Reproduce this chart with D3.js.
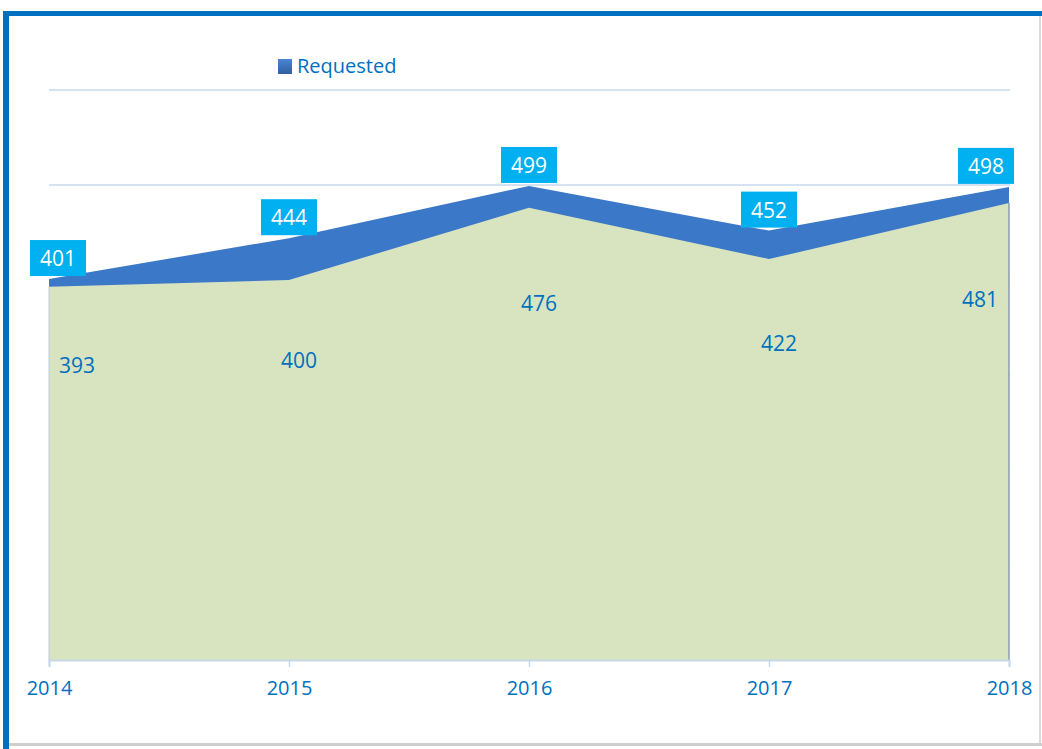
<!DOCTYPE html>
<html>
<head>
<meta charset="utf-8">
<script src="https://cdn.jsdelivr.net/npm/d3@7"></script>
<style>
  body { margin: 0; background: #fff; }
  text { font-family: "Open Sans", sans-serif; }
</style>
</head>
<body>
<div id="chart"></div>
<script>
// values
const years = ['2014', '2015', '2016', '2017', '2018'];
const requested = [401, 444, 499, 452, 498];
const granted = [393, 400, 476, 422, 481];
const gridTicks = [100, 200, 300, 400, 500, 600];

const width = 1042, height = 749;
const plotLeft = 49, plotRight = 1009, plotTop = 90, plotBottom = 660;

const svg = d3.select('#chart')
  .append('svg')
  .attr('width', width)
  .attr('height', height);

// frame
svg.append('rect')
  .attr('x', 1039).attr('y', 14).attr('width', 2).attr('height', 732)
  .style('fill', '#d9d9d9');
svg.append('rect')
  .attr('x', 6).attr('y', 743).attr('width', 1036).attr('height', 3)
  .style('fill', '#cfcfcf');
svg.append('rect')
  .attr('x', 3).attr('y', 11).attr('width', 1039).attr('height', 5)
  .style('fill', '#0070C0');
svg.append('rect')
  .attr('x', 3).attr('y', 11).attr('width', 6).attr('height', 738)
  .style('fill', '#0070C0');

let scaleX = d3.scalePoint().domain(years).range([plotLeft, plotRight]);
let scaleY = d3.scaleLinear().domain([0, 600]).range([plotBottom, plotTop]);

// gridlines
svg.selectAll('.grid')
  .data(gridTicks)
  .enter()
  .append('line')
  .attr('class', 'grid')
  .attr('x1', plotLeft)
  .attr('x2', plotRight + 1)
  .attr('y1', d => scaleY(d))
  .attr('y2', d => scaleY(d))
  .style('stroke', '#d5e2f1')
  .style('stroke-width', 2);

let reqData = years.map((y, i) => ({year: y, v: requested[i]}));
let grData = years.map((y, i) => ({year: y, v: granted[i]}));

let area = d3.area()
  .x(d => scaleX(d.year))
  .y0(plotBottom)
  .y1(d => scaleY(d.v));

svg.append('path')
  .datum(reqData)
  .attr('d', area)
  .style('fill', '#3b78c8');

svg.append('path')
  .datum(grData)
  .attr('d', area)
  .style('fill', '#d8e4bf');

// edges of the area
svg.append('line')
  .attr('x1', plotRight).attr('x2', plotRight)
  .attr('y1', scaleY(granted[granted.length - 1])).attr('y2', plotBottom)
  .style('stroke', '#8a9bb0')
  .style('stroke-width', 1.5);
svg.append('line')
  .attr('x1', plotLeft).attr('x2', plotLeft)
  .attr('y1', scaleY(granted[0])).attr('y2', plotBottom)
  .style('stroke', '#b9c9de')
  .style('stroke-width', 1);

// x axis
let xAxis = d3.axisBottom(scaleX).tickSize(7).tickPadding(14);
let xAxisGroup = svg.append('g')
  .attr('transform', 'translate(0,' + plotBottom + ')')
  .call(xAxis);
xAxisGroup.select('.domain').style('stroke', '#c7d7ea').style('stroke-width', 2);
xAxisGroup.selectAll('.tick line').style('stroke', '#c7d7ea').style('stroke-width', 1.5);
xAxisGroup.selectAll('.tick text')
  .style('fill', '#0070C0')
  .style('font-size', '20px')
  .style('font-family', '"Open Sans", sans-serif');

// labels of the green series
const clamp = (v, lo, hi) => Math.max(lo, Math.min(hi, v));
svg.selectAll('.glabel')
  .data(grData)
  .enter()
  .append('text')
  .attr('class', 'glabel')
  .attr('x', d => clamp(scaleX(d.year) + 10, 77, 980))
  .attr('y', d => scaleY(d.v * 0.79) + 8)
  .style('text-anchor', 'middle')
  .style('fill', '#0070C0')
  .style('font-size', '21px')
  .text(d => d.v);

// boxed labels of requested
const boxW = 56, boxH = 36;
let boxes = svg.selectAll('.rlabel')
  .data(reqData)
  .enter()
  .append('g')
  .attr('class', 'rlabel')
  .attr('transform', d => {
    let cx = clamp(scaleX(d.year), 30 + boxW / 2, 1014 - boxW / 2);
    return 'translate(' + cx + ',' + (scaleY(d.v) - 3 - boxH / 2) + ')';
  });
boxes.append('rect')
  .attr('x', -boxW / 2).attr('y', -boxH / 2)
  .attr('width', boxW).attr('height', boxH)
  .style('fill', '#00b0f0');
boxes.append('text')
  .attr('y', 8)
  .style('text-anchor', 'middle')
  .style('fill', '#fff')
  .style('font-size', '21px')
  .text(d => d.v);

// legend
let grad = svg.append('defs').append('linearGradient')
  .attr('id', 'lg').attr('x1', 0).attr('y1', 0).attr('x2', 0).attr('y2', 1);
grad.append('stop').attr('offset', 0).attr('stop-color', '#4a86d4');
grad.append('stop').attr('offset', 1).attr('stop-color', '#2f5f9e');
svg.append('rect')
  .attr('x', 278).attr('y', 59).attr('width', 14).attr('height', 15)
  .style('fill', 'url(#lg)');
svg.append('text')
  .attr('x', 297).attr('y', 73)
  .style('fill', '#0070C0')
  .style('font-size', '20px')
  .text('Requested');
</script>
</body>
</html>
